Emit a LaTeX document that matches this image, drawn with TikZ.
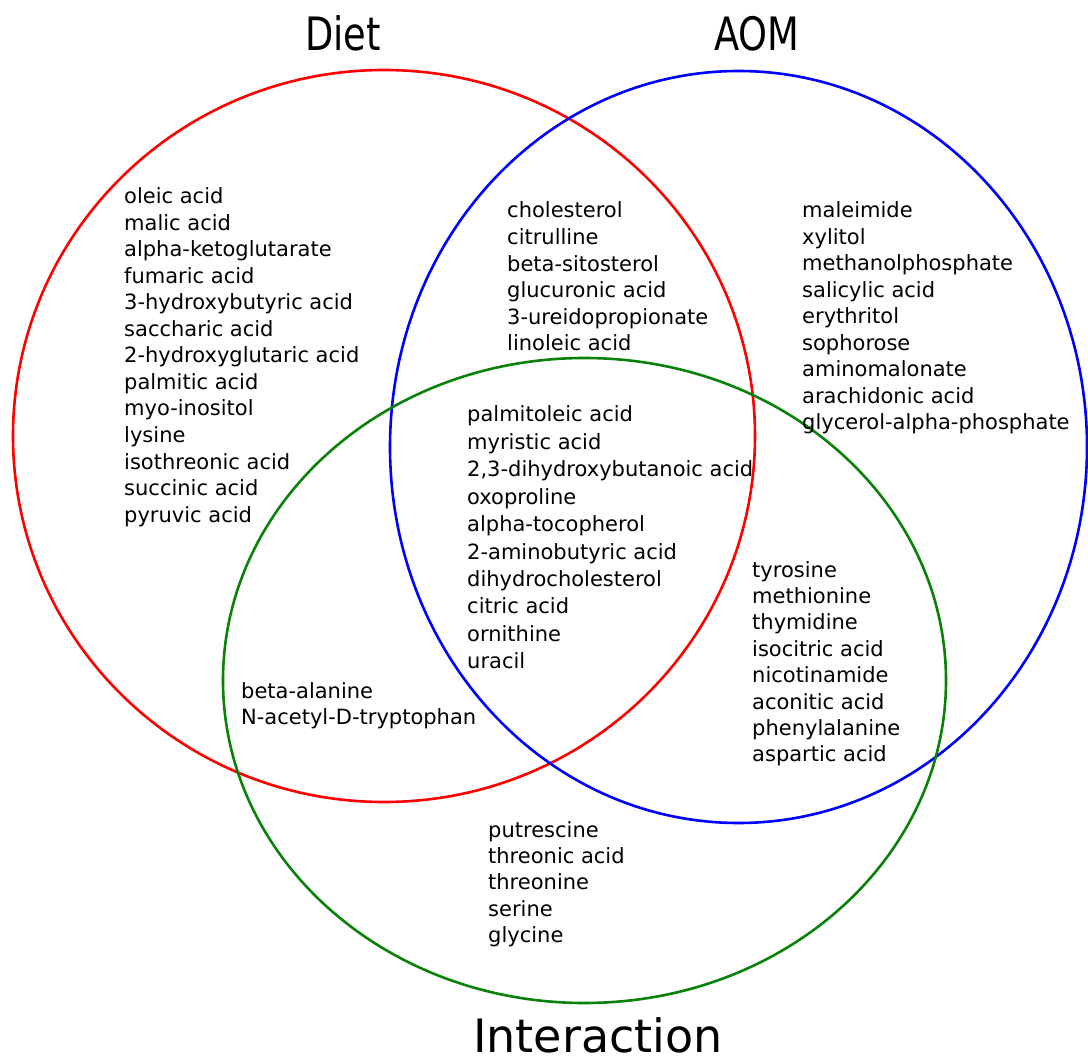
\documentclass[tikz,border=0pt]{standalone}
\usepackage{fontspec}
\setmainfont{DejaVu Sans}
\usepackage{graphicx}
\definecolor{dietred}{RGB}{255,0,0}
\definecolor{aomblue}{RGB}{0,0,255}
\definecolor{intgreen}{RGB}{10,130,10}
\begin{document}
\begin{tikzpicture}[x=1pt,y=-1pt,
  ring/.style={line width=2.6pt},
  item/.style={anchor=base west, inner sep=0pt, font=\fontsize{21}{25}\selectfont},
  title/.style={anchor=base, inner sep=0pt, text depth=0pt, font=\fontsize{46}{50}\selectfont}]
\useasboundingbox[fill=white] (0,0) rectangle (1088,1059);
% sets
\draw[ring, dietred] (384,436) ellipse [x radius=371pt, y radius=366pt];
\draw[ring, aomblue] (738.5,447) ellipse [x radius=348.5pt, y radius=376pt];
\draw[ring, intgreen] (584.5,680.5) ellipse [x radius=361.5pt, y radius=322.5pt];
% titles
\node[title] (tdiet) at (343,51) {\scalebox{0.8}[1]{Diet}};
\node[title] (taom) at (757,51) {\scalebox{0.8}[1]{AOM}};
\node[title] (tint) at (598,1052) {Interaction};
% Diet only
\foreach \t [count=\i from 0] in {oleic acid, malic acid, alpha-ketoglutarate, fumaric acid, 3-hydroxybutyric acid, saccharic acid, 2-hydroxyglutaric acid, palmitic acid, myo-inositol, lysine, isothreonic acid, succinic acid, pyruvic acid}
  \node[item] (d\i) at (124,{204+26.5*\i}) {\t};
% Diet and AOM
\foreach \t [count=\i from 0] in {cholesterol, citrulline, beta-sitosterol, glucuronic acid, 3-ureidopropionate, linoleic acid}
  \node[item] (da\i) at (507,{218+26.6*\i}) {\t};
% AOM only
\foreach \t [count=\i from 0] in {maleimide, xylitol, methanolphosphate, salicylic acid, erythritol, sophorose, aminomalonate, arachidonic acid, glycerol-alpha-phosphate}
  \node[item] (a\i) at (802,{218+26.5*\i}) {\t};
% all three
\foreach \t [count=\i from 0] in {palmitoleic acid, myristic acid, {2,3-dihydroxybutanoic acid}, oxoproline, alpha-tocopherol, 2-aminobutyric acid, dihydrocholesterol, citric acid, ornithine, uracil}
  \node[item] (c\i) at (467,{422+27.4*\i}) {\t};
% AOM and Interaction
\foreach \t [count=\i from 0] in {tyrosine, methionine, thymidine, isocitric acid, nicotinamide, aconitic acid, phenylalanine, aspartic acid}
  \node[item] (ai\i) at (752,{577+26.4*\i}) {\t};
% Diet and Interaction
\foreach \t [count=\i from 0] in {beta-alanine, N-acetyl-D-tryptophan}
  \node[item] (di\i) at (241,{698+26*\i}) {\t};
% Interaction only
\foreach \t [count=\i from 0] in {putrescine, threonic acid, threonine, serine, glycine}
  \node[item] (i\i) at (488,{837+26.4*\i}) {\t};
\end{tikzpicture}
\end{document}
